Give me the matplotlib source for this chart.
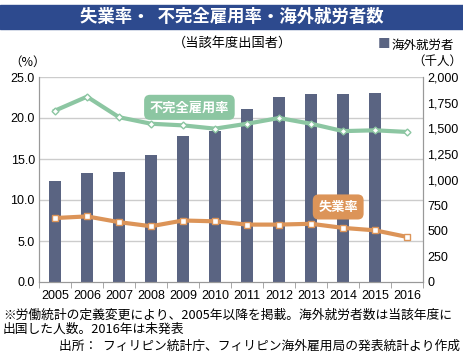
import matplotlib
matplotlib.use("Agg")
import matplotlib.pyplot as plt
from matplotlib import font_manager
import numpy as np

plt.rcParams['font.family'] = ['Noto Sans CJK JP', 'DejaVu Sans']

# Dados
anos = ["2005", "2006", "2007", "2008", "2009", "2010",
        "2011", "2012", "2013", "2014", "2015", "2016"]
trabalhadores_exterior = [988, 1062, 1077, 1236, 1422, 1470,
                          1688, 1802, 1836, 1832, 1844, np.nan]  # 千人
subemprego = [20.9, 22.6, 20.1, 19.3, 19.1, 18.7,
              19.3, 20.0, 19.3, 18.4, 18.5, 18.3]  # %
desemprego = [7.8, 8.0, 7.3, 6.8, 7.5, 7.4,
              7.0, 7.0, 7.1, 6.6, 6.3, 5.5]  # %

ticks_esq = [0, 5, 10, 15, 20, 25]
ticks_dir = [0, 250, 500, 750, 1000, 1250, 1500, 1750, 2000]

cor_barra = "#5a6482"
cor_verde = "#8cc6a2"
cor_laranja = "#dc9458"
cor_titulo = "#2d4a8e"

# Fonte estreita para os números, se existir
nomes = {f.name for f in font_manager.fontManager.ttflist}
if "Liberation Sans Narrow" in nomes:
    fonte_num = dict(family="Liberation Sans Narrow", fontsize=10.5)
elif "DejaVu Sans Condensed" in nomes:
    fonte_num = dict(family="DejaVu Sans Condensed", fontsize=9.5)
else:
    fonte_num = dict(family="Liberation Sans", fontsize=9)

fig = plt.figure(figsize=(4.64, 3.64), dpi=100)
W, H = 464, 364

# Faixa do título
fig.patches.append(plt.Rectangle((0, 1 - 29 / H), 1, 24 / H, transform=fig.transFigure,
                                 color=cor_titulo, zorder=0))
fig.text(0.5, 1 - 17 / H, "失業率・  不完全雇用率・海外就労者数", color="white",
         fontsize=12.5, ha="center", va="center", fontweight="bold")
fig.text(0.5, 1 - 43 / H, "（当該年度出国者）", fontsize=9.5, ha="center", va="center")

ax = fig.add_axes([39 / W, 1 - 282 / H, (423 - 39) / W, (282 - 77) / H])
ax2 = ax.twinx()
ax.set_zorder(ax2.get_zorder() + 1)
ax.patch.set_visible(False)

x = np.arange(len(anos))
ax2.bar(x, trabalhadores_exterior, width=0.4, color=cor_barra, zorder=2)
ax2.set_ylim(0, 2000)
ax2.set_yticks(ticks_dir)
ax2.set_yticklabels([f"{v:,}" for v in ticks_dir], **fonte_num)

ax.plot(x, subemprego, color=cor_verde, lw=3, marker="D", ms=3.5,
        mfc="white", mec=cor_verde, mew=1, zorder=4)
ax.plot(x, desemprego, color=cor_laranja, lw=3, marker="s", ms=4,
        mfc="white", mec=cor_laranja, mew=1, zorder=4)
ax.set_ylim(0, 25)
ax.set_xlim(-0.5, len(anos) - 0.5)
ax.set_yticks(ticks_esq)
ax.set_yticklabels([f"{v:.1f}" for v in ticks_esq], **fonte_num)
ax.set_xticks(x)
ax.set_xticklabels(anos, **fonte_num)
ax.set_xticks(np.arange(-0.5, len(anos)), minor=True)

# Grade horizontal atrás das barras
for v in ticks_esq[1:]:
    ax2.axhline(v * 80, color="#cccccc", lw=1, zorder=1)

for a in (ax, ax2):
    a.spines["top"].set_visible(False)
    a.spines["left"].set_color("#999999")
    a.spines["right"].set_color("#999999")
    a.spines["bottom"].set_color("#999999")
ax.tick_params(axis="x", which="major", length=0, pad=6)
ax.tick_params(axis="x", which="minor", length=4, color="#999999")
ax.tick_params(axis="y", length=0, pad=3)
ax2.tick_params(axis="y", length=0, pad=3)

# Rótulos das séries
ax.text(4.2, 21.3, "不完全雇用率", color="white", fontsize=9.5, fontweight="bold",
        ha="center", va="center", zorder=6,
        bbox=dict(boxstyle="round,pad=0.42,rounding_size=0.45", fc=cor_verde, ec="none"))
ax.text(8.85, 9.15, "失業率", color="white", fontsize=9.5, fontweight="bold",
        ha="center", va="center", zorder=6,
        bbox=dict(boxstyle="round,pad=0.42,rounding_size=0.45", fc=cor_laranja, ec="none"))

fig.text(28 / W, 1 - 62 / H, "（%）", fontsize=9, ha="center", va="center")
fig.text(437 / W, 1 - 61 / H, "（千人）", fontsize=9, ha="center", va="center")
fig.text(384 / W, 1 - 45 / H, "■", color=cor_barra, fontsize=9, ha="center", va="center")
fig.text(392 / W, 1 - 45 / H, "海外就労者", fontsize=9, ha="left", va="center")

fig.text(3 / W, 1 - 315 / H, "※労働統計の定義変更により、2005年以降を掲載。海外就労者数は当該年度に",
         fontsize=9.2, ha="left", va="center")
fig.text(3 / W, 1 - 329 / H, "出国した人数。2016年は未発表", fontsize=9.2, ha="left", va="center")
fig.text(460 / W, 1 - 346 / H, "出所：  フィリピン統計庁、フィリピン海外雇用局の発表統計より作成",
         fontsize=9.2, ha="right", va="center")

fig.savefig("out.png", dpi=100)
